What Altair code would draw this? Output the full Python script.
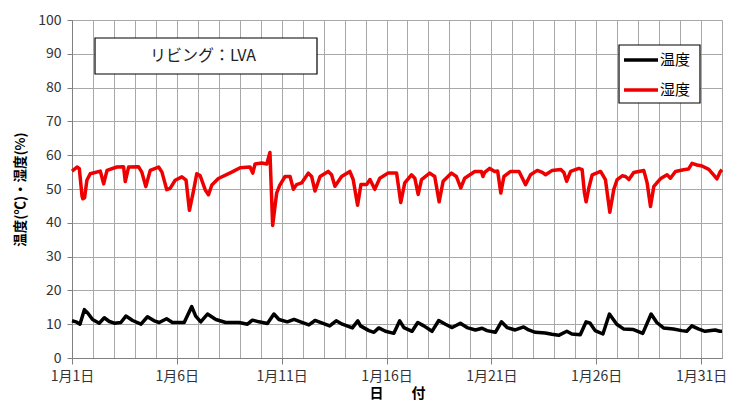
import altair as alt
import pandas as pd

# ---- data ----
temp_day = [1.0, 1.19, 1.38, 1.59, 1.75, 1.98, 2.3, 2.54, 2.78, 3.02, 3.33, 3.57, 3.89, 4.29, 4.6,
            4.92, 5.16, 5.51, 5.79, 6.35, 6.71, 6.9, 7.14, 7.46, 7.86, 8.33, 8.97, 9.37, 9.6, 9.92,
            10.32, 10.63, 10.87, 11.27, 11.59, 11.9, 12.3, 12.59, 12.94, 13.29, 13.6, 13.89, 14.37,
            14.63, 14.76, 15.16, 15.4, 15.63, 15.95, 16.35, 16.63, 16.83, 17.22, 17.49, 17.78, 18.17,
            18.49, 18.81, 19.13, 19.52, 19.84, 20.24, 20.56, 20.79, 21.19, 21.48, 21.75, 22.14, 22.54,
            22.78, 23.1, 23.57, 23.89, 24.21, 24.6, 24.84, 25.24, 25.52, 25.71, 25.95, 26.32, 26.63,
            26.98, 27.3, 27.78, 28.22, 28.62, 28.89, 29.21, 29.68, 30.08, 30.32, 30.56, 30.87, 31.19,
            31.67, 31.9, 32.0]
temp_val = [11.0, 10.7, 10.0, 14.3, 13.3, 11.4, 10.3, 11.9, 10.8, 10.3, 10.5, 12.4, 11.1, 10.0, 12.2,
            11.0, 10.5, 11.6, 10.5, 10.5, 15.2, 12.4, 10.7, 13.0, 11.4, 10.5, 10.5, 10.0, 11.2, 10.7,
            10.2, 13.0, 11.4, 10.7, 11.4, 10.7, 9.8, 11.1, 10.3, 9.5, 11.0, 10.0, 8.9,
            11.0, 9.5, 8.1, 7.6, 8.9, 7.9, 7.3, 11.0, 9.0, 7.9, 10.5, 9.5, 7.9,
            11.1, 10.0, 9.0, 10.3, 9.0, 8.3, 8.8, 8.1, 7.6, 10.7, 9.0, 8.3, 9.2,
            8.3, 7.6, 7.4, 7.0, 6.7, 7.9, 7.1, 6.9, 10.7, 10.3, 8.1, 7.1, 13.0,
            10.0, 8.6, 8.4, 7.3, 13.0, 10.5, 8.9, 8.6, 8.1, 7.9, 9.5, 8.6, 7.9,
            8.3, 7.9, 7.9]

hum_day = [1.0, 1.24, 1.35, 1.48, 1.52, 1.6, 1.71, 1.87, 2.35, 2.51, 2.67, 3.14, 3.46, 3.54, 3.7,
           4.17, 4.33, 4.52, 4.73, 5.13, 5.29, 5.52, 5.68, 5.92, 6.24, 6.44, 6.6, 6.79, 6.95, 7.11,
           7.35, 7.51, 7.67, 7.98, 8.62, 9.02, 9.49, 9.62, 9.73, 10.05, 10.29, 10.44, 10.57, 10.76,
           10.9, 11.16, 11.4, 11.56, 11.71, 11.95, 12.27, 12.43, 12.59, 12.83, 13.22, 13.38, 13.54,
           13.86, 14.25, 14.41, 14.62, 14.78, 15.05, 15.21, 15.44, 15.68, 16.08, 16.48, 16.68, 16.87,
           17.19, 17.35, 17.51, 17.67, 18.06, 18.3, 18.51, 18.7, 19.1, 19.33, 19.54, 19.73, 20.21,
           20.52, 20.6, 20.68, 20.92, 21.16, 21.3, 21.45, 21.6, 21.92, 22.32, 22.48, 22.63, 22.87,
           23.19, 23.43, 23.59, 23.9, 24.3, 24.46, 24.59, 24.78, 25.17, 25.33, 25.44, 25.52, 25.65,
           25.81, 26.21, 26.44, 26.65, 26.84, 27.0, 27.24, 27.4, 27.56, 27.79, 28.27, 28.43, 28.59,
           28.75, 29.06, 29.38, 29.54, 29.78, 30.17, 30.4, 30.57, 30.81, 31.05, 31.37, 31.6, 31.76,
           31.92, 32.0]
hum_val = [55.3, 56.5, 56.0, 47.8, 47.1, 47.4, 52.6, 54.5, 55.3, 51.5, 55.5, 56.5, 56.6, 52.2, 56.5,
           56.6, 55.0, 50.7, 55.5, 56.5, 55.0, 49.8, 50.2, 52.6, 53.6, 52.6, 43.7, 49.3, 54.5, 54.0,
           49.8, 48.3, 51.2, 53.1, 55.0, 56.3, 56.5, 54.7, 57.4, 57.7, 57.4, 60.8, 39.2, 48.8,
           51.0, 53.7, 53.7, 49.9, 51.3, 51.8, 54.7, 53.7, 49.4, 53.7, 55.2, 54.2, 50.8,
           53.7, 55.2, 52.8, 45.2, 51.3, 51.3, 52.8, 49.9, 53.2, 54.7, 54.7, 46.0, 51.8,
           54.2, 53.2, 48.4, 52.8, 54.7, 53.7, 46.2, 52.3, 54.7, 53.7, 50.3, 53.2, 55.2,
           55.2, 53.7, 54.9, 56.1, 55.2, 55.3, 48.8, 53.7, 55.2, 55.2, 53.2, 51.3, 54.2,
           55.5, 54.9, 54.2, 55.5, 55.8, 54.9, 52.3, 55.2, 56.1, 55.7, 48.9, 46.2, 50.3,
           54.2, 55.2, 52.8, 43.1, 49.9, 52.8, 53.9, 53.7, 52.8, 54.9, 55.5, 51.8, 44.8,
           50.8, 53.0, 54.2, 53.2, 55.2, 55.7, 55.9, 57.6, 57.1, 56.8, 55.8, 54.2, 53.0,
           55.2, 55.7]

series_names = ["温度", "湿度"]
series_colors = ["#000000", "#ee0000"]
title_text = "リビング：LVA"

df = pd.concat([
    pd.DataFrame({"day": temp_day, "value": temp_val, "series": series_names[0]}),
    pd.DataFrame({"day": hum_day, "value": hum_val, "series": series_names[1]}),
])

FONT = "Noto Sans CJK JP"
W, H = 650, 338

x_axis = alt.Axis(
    title="日　　付", titleFontSize=14, titleFontWeight="bold", titleColor="#000000", titlePadding=3,
    values=list(range(1, 33)),
    labelExpr="datum.value % 5 == 1 ? '1月' + datum.value + '日' : ''",
    labelFontSize=14, labelColor="#333333", labelFont=FONT, labelPadding=5,
    tickColor=alt.ExprRef(expr="datum.value % 5 == 1 ? '#808080' : 'transparent'"),
    tickSize=6, gridColor="#a8a8a8", domainColor="#808080", labelFlush=False,
)
y_axis = alt.Axis(
    title="温度(℃)・湿度(%)", titleFontSize=13.5, titleFontWeight="bold", titleColor="#000000",
    titlePadding=10, values=list(range(0, 101, 10)), labelFontSize=14, labelColor="#333333",
    labelFont=FONT, labelPadding=6, tickSize=5, tickColor="#808080", gridColor="#a8a8a8",
    domainColor="#808080",
)

color_scale = alt.Scale(domain=series_names, range=series_colors)

lines = alt.Chart(df).mark_line(strokeWidth=3.5, strokeJoin="round").encode(
    x=alt.X("day:Q", scale=alt.Scale(domain=[1, 32], nice=False), axis=x_axis),
    y=alt.Y("value:Q", scale=alt.Scale(domain=[0, 100]), axis=y_axis),
    color=alt.Color("series:N", scale=color_scale, legend=None),
    order=alt.Order("day:Q"),
    detail="series:N",
)

# title box
box = alt.Chart(pd.DataFrame({"t": [title_text]})).mark_rect(
    fill="#ffffff", stroke="#000000", strokeWidth=1.2
).encode(x=alt.value(23), x2=alt.value(245), y=alt.value(18), y2=alt.value(54))

label = alt.Chart(pd.DataFrame({"t": [title_text]})).mark_text(
    fontSize=16, font=FONT, color="#222222", align="center", baseline="middle"
).encode(x=alt.value(131), y=alt.value(36), text="t:N")

# legend box
leg_df = pd.DataFrame({"series": series_names})
leg_box = alt.Chart(pd.DataFrame({"t": ["legend"]})).mark_rect(
    fill="#ffffff", stroke="#000000", strokeWidth=1.2
).encode(x=alt.value(547), x2=alt.value(628), y=alt.value(25), y2=alt.value(83))

leg_layers = []
for i, name in enumerate(series_names):
    ypos = 40 + 30 * i
    sub = leg_df[leg_df["series"] == name]
    leg_layers.append(
        alt.Chart(sub).mark_rule(strokeWidth=3.5).encode(
            x=alt.value(552), x2=alt.value(586), y=alt.value(ypos),
            color=alt.Color("series:N", scale=color_scale, legend=None))
    )
    leg_layers.append(
        alt.Chart(sub).mark_text(fontSize=15, font=FONT, color="#000000", align="left",
                                 baseline="middle").encode(
            x=alt.value(588), y=alt.value(ypos), text="series:N")
    )

chart = alt.layer(lines, box, label, leg_box, *leg_layers).properties(
    width=W, height=H,
    autosize=alt.AutoSizeParams(type="none"),
    padding={"left": 64, "top": 12, "right": 4, "bottom": 44},
).configure_view(stroke=None).configure(font=FONT)

chart.save("out.html", embed_options={"renderer": "svg", "actions": False})
